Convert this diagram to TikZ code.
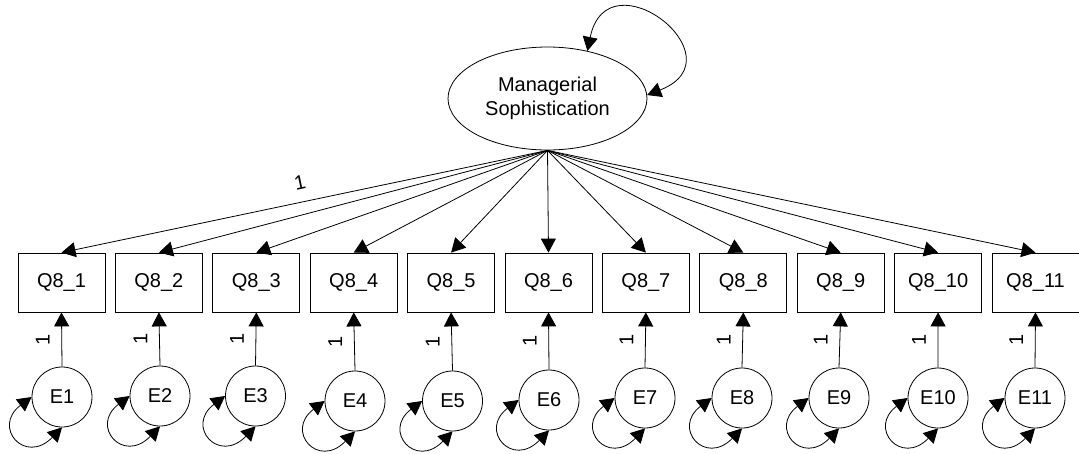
\documentclass[tikz,border=0pt]{standalone}
\usepackage{fontspec}
\setmainfont{Liberation Sans}
\usetikzlibrary{arrows.meta,shapes.geometric}
\begin{document}
\begin{tikzpicture}[x=1pt,y=-1pt,
  every node/.style={font=\fontsize{20}{24}\selectfont},
  obs/.style={draw,line width=0.8pt,rectangle,minimum width=87pt,minimum height=59pt,inner sep=0pt},
  err/.style={draw,line width=0.8pt,circle,minimum size=60pt,inner sep=0pt},
  lat/.style={draw,line width=0.8pt,ellipse,minimum width=199pt,minimum height=103pt,inner sep=0pt,align=center},
  arr/.style={line width=0.8pt,-{Triangle[length=14pt,width=15pt]}},
  arrtwo/.style={line width=0.8pt,{Triangle[length=14pt,width=15pt]}-{Triangle[length=14pt,width=15pt]}},
  wlab/.style={inner sep=0pt}]
\useasboundingbox (0,0) rectangle (1079,453);
\node[lat] (M) at (547.5,98.5) {Managerial\\Sophistication};
\draw[arrtwo] (M.50) .. controls +(20,-98) and +(95,-37) .. (M.2);
\foreach \i/\ex/\ey in {1/62/397,2/160/396,3/255.5/396,4/355/401,5/452.5/401,6/549/400,7/645/398,8/742/398,9/839/398,10/938/398,11/1035/398}{
  \node[obs] (Q\i) at ({61.5+97.4*(\i-1)},282.5) {Q8\_\i};
  \node[err] (E\i) at (\ex,\ey) {E\i};
  \draw[arr] (M.south) -- (Q\i.north);
  \draw[arr] (E\i.north) -- node[wlab,midway,xshift=-19pt,rotate=90] (w\i) {1} (Q\i.south);
  \draw[arrtwo] (E\i.180) .. controls +(-40,30) and +(-37,38) .. (E\i.south);
}
\node[wlab,rotate=12] (w0) at (300,183) {1};
\end{tikzpicture}
\end{document}
